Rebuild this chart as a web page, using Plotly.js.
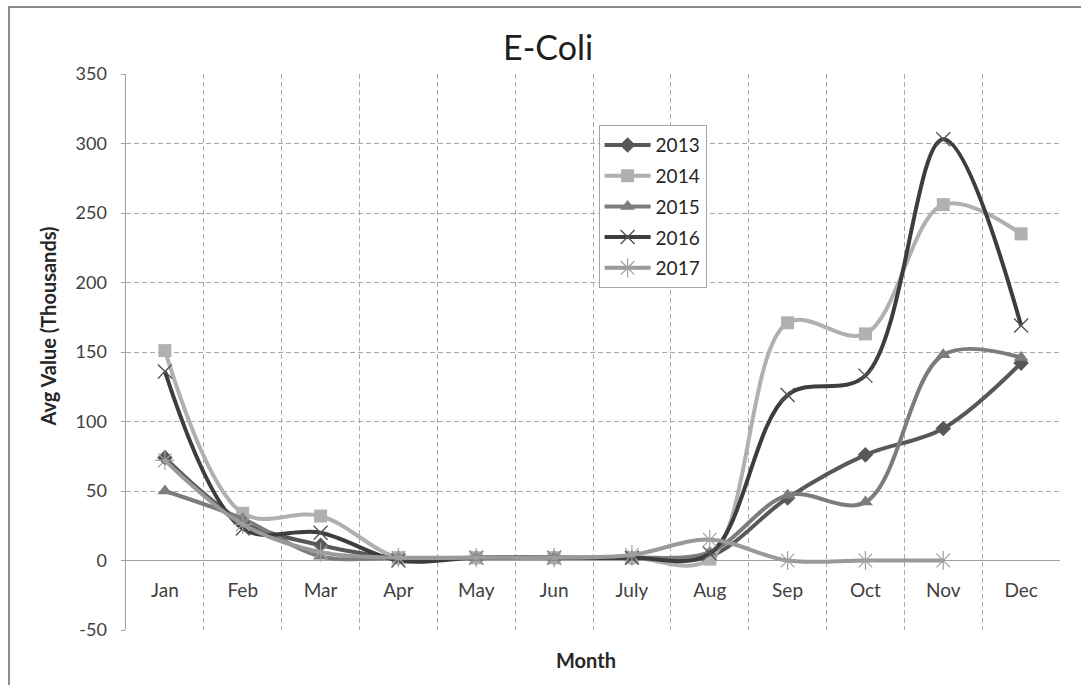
<!DOCTYPE html>
<html>
<head>
<meta charset="utf-8">
<script src="https://cdn.plot.ly/plotly-3.0.1.min.js"></script>
<style>
  html, body { margin: 0; padding: 0; background: #ffffff; overflow: hidden; }
  #wrap { position: relative; width: 1081px; height: 685px; overflow: hidden; }
  #chart { position: absolute; left: 0; top: 0; width: 1081px; height: 685px; }
  #frame { position: absolute; left: 8px; top: 6px; width: 1100px; height: 700px;
           border-left: 2px solid #8c8c8c; border-top: 2px solid #8c8c8c; pointer-events: none; }
</style>
</head>
<body>
<div id="wrap">
  <div id="chart"></div>
  <div id="frame"></div>
</div>
<script>
// Monthly average E. coli values (thousands) by year
const months = ['Jan', 'Feb', 'Mar', 'Apr', 'May', 'Jun', 'July', 'Aug', 'Sep', 'Oct', 'Nov', 'Dec'];
const years = ['2013', '2014', '2015', '2016', '2017'];
const v2013 = [74, 28, 11, 2, 2, 2, 2, 3, 45, 76, 95, 142];
const v2014 = [151, 34, 32, 2, 2, 2, 2, 1, 171, 163, 256, 235];
const v2015 = [50, 30, 3, 2, 2, 2, 2, 6, 47, 42, 148, 146];
const v2016 = [136, 23, 20, 0, 2, 2, 2, 5, 119, 133, 303, 169];
const v2017 = [72, 26, 6, 2, 2, 2, 4, 15, 0, 0, 0, null];
const yTicks = [-50, 0, 50, 100, 150, 200, 250, 300, 350];

const FONT = 'Lato, "Open Sans", sans-serif';
const gridDash = '5px,3px';
const gridColor = '#a9a9a9';
const axisColor = '#a0a0a0';

const styles = [
  { color: '#585858', symbol: 'diamond', size: 12, lw: 0 },
  { color: '#b0b0b0', symbol: 'square', size: 13, lw: 0 },
  { color: '#7c7c7c', symbol: 'triangle-up', size: 13, lw: 0 },
  { color: '#3d3d3d', symbol: 'x-thin-open', size: 14, lw: 1.4, mcolor: '#555555' },
  { color: '#999999', symbol: 'asterisk-open', size: 16, lw: 1.2, mcolor: '#a0a0a0' }
];
const series = [v2013, v2014, v2015, v2016, v2017];

const traces = series.map((vals, i) => {
  const s = styles[i];
  const marker = { symbol: s.symbol, size: s.size, color: s.mcolor || s.color };
  if (s.lw) marker.line = { width: s.lw, color: s.mcolor || s.color };
  return {
    type: 'scatter',
    mode: 'lines+markers',
    name: years[i],
    legendgroup: years[i],
    x: months,
    y: vals,
    line: { color: s.color, width: 4, shape: 'spline', smoothing: 1 },
    marker: marker,
    connectgaps: false,
    cliponaxis: false
  };
});

const layout = {
  width: 1081,
  height: 685,
  margin: { l: 126, r: 21, t: 74, b: 55, pad: 0 },
  paper_bgcolor: '#ffffff',
  plot_bgcolor: '#ffffff',
  font: { family: FONT, color: '#404040', size: 18 },
  title: {
    text: 'E-Coli',
    x: 0.507, xanchor: 'center',
    y: 0.93, yanchor: 'middle',
    font: { family: FONT, size: 34, color: '#1e1e1e' }
  },
  showlegend: true,
  legend: {
    x: 0.506, xanchor: 'left',
    y: 0.908, yanchor: 'top',
    bgcolor: '#ffffff',
    bordercolor: '#a6a6a6',
    borderwidth: 1,
    font: { family: FONT, size: 19, color: '#262626' },
    traceorder: 'grouped',
    tracegroupgap: 3,
    itemwidth: 46
  },
  xaxis: {
    type: 'category',
    categoryorder: 'array',
    categoryarray: months,
    range: [-0.5, 11.5],
    anchor: 'free',
    position: 0.125,
    tickson: 'boundaries',
    ticks: '',
    showline: false,
    showgrid: true,
    gridcolor: gridColor,
    griddash: gridDash,
    gridwidth: 1,
    zeroline: false,
    ticklabelstandoff: 16,
    tickfont: { family: FONT, size: 19, color: '#404040' },
    fixedrange: true
  },
  yaxis: {
    range: [-50, 350],
    tickvals: yTicks,
    ticktext: yTicks.map(String),
    showgrid: true,
    gridcolor: gridColor,
    griddash: gridDash,
    gridwidth: 1,
    zeroline: true,
    zerolinecolor: axisColor,
    zerolinewidth: 1.5,
    showline: true,
    linecolor: axisColor,
    linewidth: 1.5,
    ticks: 'outside',
    ticklen: 4,
    tickcolor: axisColor,
    ticklabelstandoff: 10,
    tickfont: { family: FONT, size: 18, color: '#404040' },
    fixedrange: true
  },
  annotations: [
    {
      text: '<b>Month</b>',
      xref: 'paper', yref: 'paper',
      x: 0.4925, y: -0.054,
      xanchor: 'center', yanchor: 'middle',
      showarrow: false,
      font: { family: FONT, size: 20, color: '#262626' }
    },
    {
      text: '<b>Avg Value (Thousands)</b>',
      xref: 'paper', yref: 'paper',
      x: -0.084, y: 0.545,
      xanchor: 'center', yanchor: 'middle',
      textangle: -90,
      showarrow: false,
      font: { family: FONT, size: 20, color: '#262626' }
    }
  ]
};

Plotly.newPlot('chart', traces, layout, { displayModeBar: false, staticPlot: true });
</script>
</body>
</html>
